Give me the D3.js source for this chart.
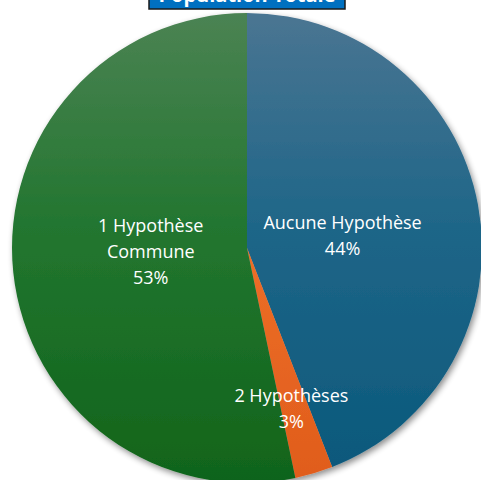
<!DOCTYPE html>
<html>
<head>
<meta charset="utf-8">
<script src="https://cdn.jsdelivr.net/npm/d3@7"></script>
<style>
  html, body { margin: 0; padding: 0; background: #fff; }
  svg { display: block; }
</style>
</head>
<body>
<div id="chart"></div>
<script>
// ── Data ──────────────────────────────────────────────────────────────
const TITLE      = 'Population Totale';
const categories = ['Aucune Hypothèse', '2 Hypothèses', '1 Hypothèse Commune'];
const labelLines = [['Aucune Hypothèse'], ['2 Hypothèses'], ['1 Hypothèse', 'Commune']];
const values     = [44.1, 2.6, 53.3];
const colorsTop  = ['#4a7592', '#f28a4c', '#4b8353'];
const colorsMid  = ['#1f6688', '#ee7028', '#237630'];
const colorsBot  = ['#0a587b', '#e05c1c', '#10641a'];

const W = 481, H = 480;
const CX = 247, CY = 248, R = 235;

const svg = d3.select('#chart').append('svg')
  .attr('width', W).attr('height', H);

const defs = svg.append('defs');

// vertical gradients per slice (Excel-style shading), in the pie group's space
categories.forEach((c, i) => {
  const g = defs.append('linearGradient')
    .attr('id', `grad-${i}`)
    .attr('gradientUnits', 'userSpaceOnUse')
    .attr('x1', 0).attr('y1', -R).attr('x2', 0).attr('y2', R);
  g.append('stop').attr('offset', '0%').attr('stop-color', colorsTop[i]);
  g.append('stop').attr('offset', '45%').attr('stop-color', colorsMid[i]);
  g.append('stop').attr('offset', '100%').attr('stop-color', colorsBot[i]);
});

// soft drop shadow
const shadow = defs.append('filter').attr('id', 'shadow')
  .attr('x', '-10%').attr('y', '-10%').attr('width', '120%').attr('height', '120%');
shadow.append('feGaussianBlur').attr('in', 'SourceAlpha').attr('stdDeviation', 3);
shadow.append('feOffset').attr('dx', 2).attr('dy', 3).attr('result', 'blur');
shadow.append('feComponentTransfer').append('feFuncA').attr('type', 'linear').attr('slope', 0.45);
const merge = shadow.append('feMerge');
merge.append('feMergeNode');
merge.append('feMergeNode').attr('in', 'SourceGraphic');

// ── Pie ───────────────────────────────────────────────────────────────
const pie = d3.pie().sort(null).value(d => d);
const arcs = pie(values);
const arc = d3.arc().innerRadius(0).outerRadius(R);
const total = d3.sum(values);

const g = svg.append('g').attr('transform', `translate(${CX},${CY})`);

g.append('g').attr('filter', 'url(#shadow)')
  .selectAll('path')
  .data(arcs)
  .join('path')
    .attr('d', arc)
    .attr('fill', (d, i) => `url(#grad-${i})`);

// labels: big slices near the middle, thin slice pushed outward
const lineH = 26;
arcs.forEach((d, i) => {
  const share = d.value / total;
  const small = share < 0.1;
  const lr = small ? R * 0.71 : R * 0.41;
  const mid = (d.startAngle + d.endAngle) / 2 + (small ? 0.02 : 0.06);
  const x = Math.sin(mid) * lr;
  const y = -Math.cos(mid) * lr;
  const lines = labelLines[i].concat([Math.round(share * 100) + '%']);
  const t = g.append('text')
    .attr('text-anchor', 'middle')
    .attr('font-family', '"Open Sans", "Noto Sans", sans-serif')
    .attr('font-size', 18)
    .attr('fill', '#fff');
  lines.forEach((s, k) => {
    t.append('tspan')
      .attr('x', x)
      .attr('y', y + (k - (lines.length - 1) / 2) * lineH + 6)
      .text(s);
  });
});

// ── Title box (cut off at top edge, as in the source) ─────────────────
svg.append('rect')
  .attr('x', 149).attr('y', -22)
  .attr('width', 196).attr('height', 31)
  .attr('fill', '#0070c0')
  .attr('stroke', '#1a1a1a').attr('stroke-width', 1.5);

svg.append('text')
  .attr('x', 247).attr('y', 2)
  .attr('text-anchor', 'middle')
  .attr('font-family', '"Open Sans", "Noto Sans", sans-serif')
  .attr('font-weight', 'bold')
  .attr('font-size', 20)
  .attr('fill', '#fff')
  .text(TITLE);
</script>
</body>
</html>
